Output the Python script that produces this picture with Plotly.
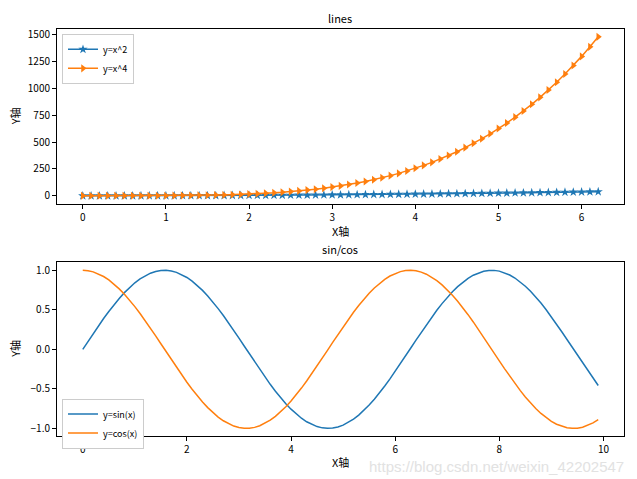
import plotly.graph_objects as go

# top chart data
x_pow = [0.0, 0.1, 0.2, 0.3, 0.4, 0.5, 0.6, 0.7, 0.8, 0.9, 1.0, 1.1, 1.2, 1.3, 1.4, 1.5,
         1.6, 1.7, 1.8, 1.9, 2.0, 2.1, 2.2, 2.3, 2.4, 2.5, 2.6, 2.7, 2.8, 2.9, 3.0, 3.1,
         3.2, 3.3, 3.4, 3.5, 3.6, 3.7, 3.8, 3.9, 4.0, 4.1, 4.2, 4.3, 4.4, 4.5, 4.6, 4.7,
         4.8, 4.9, 5.0, 5.1, 5.2, 5.3, 5.4, 5.5, 5.6, 5.7, 5.8, 5.9, 6.0, 6.1, 6.2]
y_sq = [0, 0.01, 0.04, 0.09, 0.16, 0.25, 0.36, 0.49, 0.64, 0.81, 1.0, 1.21, 1.44, 1.69,
        1.96, 2.25, 2.56, 2.89, 3.24, 3.61, 4.0, 4.41, 4.84, 5.29, 5.76, 6.25, 6.76, 7.29,
        7.84, 8.41, 9.0, 9.61, 10.24, 10.89, 11.56, 12.25, 12.96, 13.69, 14.44, 15.21, 16.0,
        16.81, 17.64, 18.49, 19.36, 20.25, 21.16, 22.09, 23.04, 24.01, 25.0, 26.01, 27.04,
        28.09, 29.16, 30.25, 31.36, 32.49, 33.64, 34.81, 36.0, 37.21, 38.44]
y_quad = [0, 0.0, 0.0, 0.01, 0.03, 0.06, 0.13, 0.24, 0.41, 0.66, 1.0, 1.46, 2.07, 2.86,
          3.84, 5.06, 6.55, 8.35, 10.5, 13.03, 16.0, 19.45, 23.43, 27.98, 33.18, 39.06,
          45.7, 53.14, 61.47, 70.73, 81.0, 92.35, 104.86, 118.59, 133.63, 150.06, 167.96,
          187.42, 208.51, 231.34, 256.0, 282.58, 311.17, 341.88, 374.81, 410.06, 447.75,
          487.97, 530.84, 576.48, 625.0, 676.52, 731.16, 789.05, 850.31, 915.06, 983.45,
          1055.6, 1131.65, 1211.74, 1296.0, 1384.58, 1477.63]

# bottom chart data
x_trig = [0.0, 0.1, 0.2, 0.3, 0.4, 0.5, 0.6, 0.7, 0.8, 0.9, 1.0, 1.1, 1.2, 1.3, 1.4, 1.5,
          1.6, 1.7, 1.8, 1.9, 2.0, 2.1, 2.2, 2.3, 2.4, 2.5, 2.6, 2.7, 2.8, 2.9, 3.0, 3.1,
          3.2, 3.3, 3.4, 3.5, 3.6, 3.7, 3.8, 3.9, 4.0, 4.1, 4.2, 4.3, 4.4, 4.5, 4.6, 4.7,
          4.8, 4.9, 5.0, 5.1, 5.2, 5.3, 5.4, 5.5, 5.6, 5.7, 5.8, 5.9, 6.0, 6.1, 6.2, 6.3,
          6.4, 6.5, 6.6, 6.7, 6.8, 6.9, 7.0, 7.1, 7.2, 7.3, 7.4, 7.5, 7.6, 7.7, 7.8, 7.9,
          8.0, 8.1, 8.2, 8.3, 8.4, 8.5, 8.6, 8.7, 8.8, 8.9, 9.0, 9.1, 9.2, 9.3, 9.4, 9.5,
          9.6, 9.7, 9.8, 9.9]
y_sin = [0.0, 0.0998, 0.1987, 0.2955, 0.3894, 0.4794, 0.5646, 0.6442, 0.7174, 0.7833,
         0.8415, 0.8912, 0.932, 0.9636, 0.9854, 0.9975, 0.9996, 0.9917, 0.9738, 0.9463,
         0.9093, 0.8632, 0.8085, 0.7457, 0.6755, 0.5985, 0.5155, 0.4274, 0.335, 0.2392,
         0.1411, 0.0416, -0.0584, -0.1577, -0.2555, -0.3508, -0.4425, -0.5298, -0.6119,
         -0.6878, -0.7568, -0.8183, -0.8716, -0.9162, -0.9516, -0.9775, -0.9937, -0.9999,
         -0.9962, -0.9825, -0.9589, -0.9258, -0.8835, -0.8323, -0.7728, -0.7055, -0.6313,
         -0.5507, -0.4646, -0.3739, -0.2794, -0.1822, -0.0831, 0.0168, 0.1165, 0.2151,
         0.3115, 0.4048, 0.4941, 0.5784, 0.657, 0.729, 0.7937, 0.8504, 0.8987, 0.938,
         0.9679, 0.9882, 0.9985, 0.9989, 0.9894, 0.9699, 0.9407, 0.9022, 0.8546, 0.7985,
         0.7344, 0.663, 0.5849, 0.501, 0.4121, 0.3191, 0.2229, 0.1245, 0.0248, -0.0752,
         -0.1743, -0.2718, -0.3665, -0.4575]
y_cos = [1.0, 0.995, 0.9801, 0.9553, 0.9211, 0.8776, 0.8253, 0.7648, 0.6967, 0.6216,
         0.5403, 0.4536, 0.3624, 0.2675, 0.17, 0.0707, -0.0292, -0.1288, -0.2272, -0.3233,
         -0.4161, -0.5048, -0.5885, -0.6663, -0.7374, -0.8011, -0.8569, -0.9041, -0.9422,
         -0.971, -0.99, -0.9991, -0.9983, -0.9875, -0.9668, -0.9365, -0.8968, -0.8481,
         -0.791, -0.7259, -0.6536, -0.5748, -0.4903, -0.4008, -0.3073, -0.2108, -0.1122,
         -0.0124, 0.0875, 0.1865, 0.2837, 0.378, 0.4685, 0.5544, 0.6347, 0.7087, 0.7756,
         0.8347, 0.8855, 0.9275, 0.9602, 0.9833, 0.9965, 0.9999, 0.9932, 0.9766, 0.9502,
         0.9144, 0.8694, 0.8157, 0.7539, 0.6845, 0.6084, 0.5261, 0.4385, 0.3466, 0.2513,
         0.1534, 0.054, -0.046, -0.1455, -0.2435, -0.3392, -0.4314, -0.5193, -0.602,
         -0.6787, -0.7486, -0.8111, -0.8654, -0.9111, -0.9477, -0.9748, -0.9922, -0.9997,
         -0.9972, -0.9847, -0.9624, -0.9304, -0.8892]

BLUE = "#1f77b4"
ORANGE = "#ff7f0e"
FONT = "SimHei, Noto Sans CJK SC, sans-serif"
OFF = 8  # page body margin
W, H = 637 - OFF, 479 - OFF


def px(x):
    return (x - OFF) / W


def py(y):
    return (H - (y - OFF)) / H


fig = go.Figure()

fig.add_trace(go.Scatter(x=x_pow, y=y_sq, mode="lines+markers", name="y=x^2",
                         line=dict(color=BLUE, width=1.5),
                         marker=dict(symbol="star", size=7, color=BLUE),
                         xaxis="x", yaxis="y", legend="legend"))
fig.add_trace(go.Scatter(x=x_pow, y=y_quad, mode="lines+markers", name="y=x^4",
                         line=dict(color=ORANGE, width=1.5),
                         marker=dict(symbol="triangle-right", size=7, color=ORANGE),
                         xaxis="x", yaxis="y", legend="legend"))
fig.add_trace(go.Scatter(x=x_trig, y=y_sin, mode="lines", name="y=sin(x)",
                         line=dict(color=BLUE, width=1.5),
                         xaxis="x2", yaxis="y2", legend="legend2"))
fig.add_trace(go.Scatter(x=x_trig, y=y_cos, mode="lines", name="y=cos(x)",
                         line=dict(color=ORANGE, width=1.5),
                         xaxis="x2", yaxis="y2", legend="legend2"))

axis_style = dict(showline=True, mirror=True, linecolor="black", linewidth=1,
                  ticks="outside", ticklen=4, tickcolor="black", showgrid=False,
                  zeroline=False, tickfont=dict(family=FONT, size=10, color="black"))

xd = [px(57), px(624)]
legend_style = dict(xanchor="left", yanchor="top", bordercolor="#cccccc", borderwidth=1,
                    bgcolor="white", font=dict(family=FONT, size=9, color="black"),
                    tracegroupgap=0)
fig.update_layout(
    width=W, height=H,
    margin=dict(l=0, r=0, t=0, b=0),
    plot_bgcolor="white", paper_bgcolor="white",
    xaxis=dict(domain=xd, range=[-0.31, 6.51], tickvals=[0, 1, 2, 3, 4, 5, 6],
               anchor="y", **axis_style),
    yaxis=dict(domain=[py(202), py(26)], range=[-73.9, 1551.5],
               tickvals=[0, 250, 500, 750, 1000, 1250, 1500], anchor="x", **axis_style),
    xaxis2=dict(domain=xd, range=[-0.495, 10.395], tickvals=[0, 2, 4, 6, 8, 10],
                anchor="y2", **axis_style),
    yaxis2=dict(domain=[py(436), py(261)], range=[-1.1, 1.1],
                tickvals=[-1, -0.5, 0, 0.5, 1],
                ticktext=["\u22121.0", "\u22120.5", "0.0", "0.5", "1.0"],
                anchor="x2", **axis_style),
    legend=dict(x=px(62), y=py(31), **legend_style),
    legend2=dict(x=px(62), y=py(398), **legend_style),
)

# titles, axis labels, watermark
cx = px((57 + 624) / 2)
texts = [
    ("lines", cx, 15, 11, 0),
    ("sin/cos", cx, 248, 11, 0),
    ("X轴", cx, 229, 11, 0),
    ("X轴", cx, 462, 11, 0),
    ("Y轴", px(15), 114, 11, -90),
    ("Y轴", px(15), 348, 11, -90),
]
for t, x, y, s, ang in texts:
    fig.add_annotation(text=t, x=x, y=py(y), xref="paper", yref="paper",
                       showarrow=False, textangle=ang,
                       font=dict(family=FONT, size=s, color="black"),
                       xanchor="center", yanchor="middle")

fig.add_annotation(text="https://blog.csdn.net/weixin_42202547", x=px(626), y=py(466),
                   xref="paper", yref="paper", showarrow=False, xanchor="right",
                   yanchor="middle", font=dict(family="Arial, Liberation Sans", size=15,
                                               color="#e2e2e2"))

fig.write_html("out.html")
